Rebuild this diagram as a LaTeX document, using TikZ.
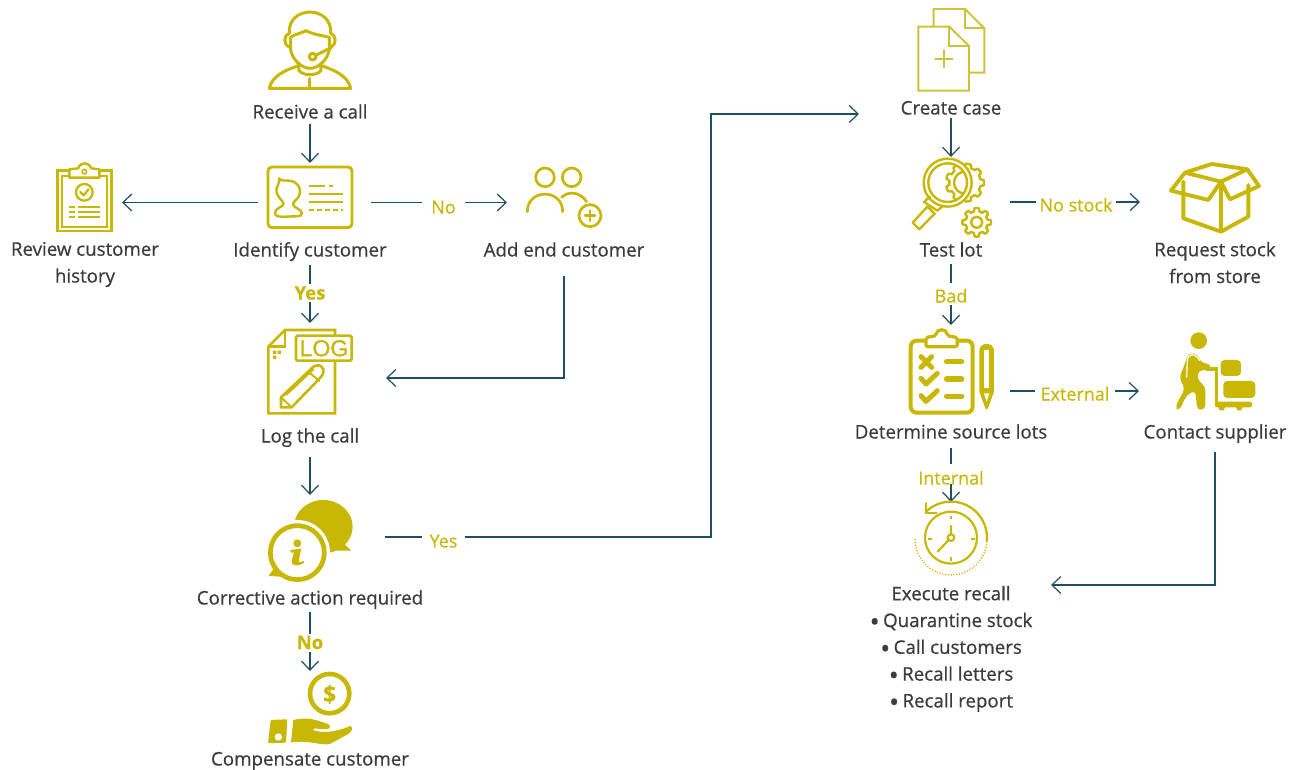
\documentclass[tikz,border=0pt]{standalone}
\usepackage{fontspec}
\setmainfont[FakeBold=0.6]{Open Sans}
\newfontfamily\goldfont[FakeBold=0.4,BoldFeatures={FakeBold=0.8}]{Open Sans}
\newfontfamily\logfont[FakeBold=1.2]{Liberation Sans}
\usetikzlibrary{arrows.meta,calc}
\definecolor{gold}{HTML}{C9B705}
\definecolor{golda}{HTML}{D1C13A}
\definecolor{teal}{HTML}{1E5064}
\definecolor{ink}{HTML}{3B3C3E}
\newcommand{\gearplot}[5]{plot[domain=0:360,samples=145,variable=\t] ({#1+(#4+(#3-#4)*min(1,max(0,.5+1.4*cos(#5*\t))))*cos(\t)},{#2+(#4+(#3-#4)*min(1,max(0,.5+1.4*cos(#5*\t))))*sin(\t)})}
\newcommand{\bigbul}{\raisebox{-4.2pt}{\fontsize{27}{27}\selectfont •}\hspace{-1.5pt}}
\tikzset{
  iconbox/.style={inner sep=0pt,outer sep=0pt,draw=none,rectangle},
  stepfont/.style={inner sep=0pt,outer sep=0pt,text=ink,font=\fontsize{18.7}{26.8}\selectfont,align=center},
  steplabel/.style={stepfont,text height=15pt,text depth=2pt},
  stepblock/.style={stepfont,anchor=north},
  cond/.style={inner sep=0pt,outer sep=0pt,fill=white,text=gold,font=\goldfont\fontsize{18}{20}\selectfont,text height=15pt,text depth=2pt},
  condb/.style={cond,font=\goldfont\bfseries\fontsize{18.5}{20}\selectfont},
  link/.style={draw=teal,line width=1.2pt,-{Straight Barb[length=9pt,width=17pt,line width=1.2pt]}},
  zoomed/.style={x=0.3333pt,y=-0.3333pt},
  ic/.style={draw=gold,line width=2.2pt,line join=round,line cap=round},
  icf/.style={fill=gold,draw=none},
}
\begin{document}
\begin{tikzpicture}[x=1pt,y=-1pt]
\useasboundingbox (0,0) rectangle (1297,770);
\fill[white] (0,0) rectangle (1297,770);

% invisible anchors of the icons
\node[iconbox,minimum width=90pt,minimum height=80pt] (receive) at (310,50) {};
\node[iconbox,minimum width=113pt,minimum height=79pt] (identify) at (314.5,202.5) {};
\node[iconbox,minimum width=74pt,minimum height=85pt] (review) at (85,202.5) {};
\node[iconbox,minimum width=114pt,minimum height=75pt] (addcust) at (564,202.5) {};
\node[iconbox,minimum width=152pt,minimum height=110pt] (logcall) at (310,378) {};
\node[iconbox,minimum width=150pt,minimum height=84pt] (corrective) at (310,537) {};
\node[iconbox,minimum width=100pt,minimum height=74pt] (compensate) at (310,708) {};
\node[iconbox,minimum width=184pt,minimum height=80pt] (createcase) at (951,114) {};
\node[iconbox,minimum width=118pt,minimum height=90pt] (testlot) at (951,202) {};
\node[iconbox,minimum width=150pt,minimum height=70pt] (request) at (1215,202) {};
\node[iconbox,minimum width=118pt,minimum height=132pt] (determine) at (951,391) {};
\node[iconbox,minimum width=152pt,minimum height=80pt] (contact) at (1215,391) {};
\node[iconbox,minimum width=200pt,minimum height=166pt] (execute) at (951,585) {};
\coordinate (turn) at (711,114);

% labels
\node[steplabel,minimum height=24pt] (lreceive) at (310,112) {Receive a call};
\node[steplabel,minimum height=30pt] (lidentify) at (310,250) {Identify customer};
\node[stepblock] (lreview) at (85,242) {Review customer\\history};
\node[steplabel,minimum height=52pt] (laddcust) at (564,250) {Add end customer};
\node[steplabel,minimum height=42pt] (llogcall) at (310,436) {Log the call};
\node[steplabel,minimum height=28pt] (lcorrective) at (310,598) {Corrective action required};
\node[steplabel] (lcompensate) at (310,759) {Compensate customer};
\node[steplabel,minimum height=20pt] (lcreatecase) at (951,108) {Create case};
\node[steplabel,minimum height=28pt] (ltestlot) at (951,250) {Test lot};
\node[stepblock] (lrequest) at (1215,242) {Request stock\\from store};
\node[steplabel,minimum height=32pt] (ldetermine) at (951,432) {Determine source lots};
\node[steplabel,minimum height=40pt] (lcontact) at (1215,432) {Contact supplier};
\node[stepblock] (lexecute) at (951,586) {Execute recall\\\bigbul{} Quarantine stock\\\bigbul{} Call customers\\\bigbul{} Recall letters\\\bigbul{} Recall report};

% connectors
\draw[link] (lreceive.south) -- (identify.north -| lreceive.south);
\draw[link] (identify.west) -- (review.east);
\draw[link] (identify.east) -- (addcust.west);
\draw[link] (lidentify.south) -- (logcall.north);
\draw[link] (laddcust.south) |- (logcall.east);
\draw[link] (llogcall.south) -- (corrective.north);
\draw[link] (corrective.east) -| (turn) -- (createcase.west);
\draw[link] (lcorrective.south) -- (compensate.north);
\draw[link] (lcreatecase.south) -- (testlot.north);
\draw[link] (testlot.east) -- (request.west);
\draw[link] (ltestlot.south) -- (determine.north);
\draw[link] (determine.east) -- (contact.west);
\draw[link] (ldetermine.south) -- (execute.north);
\draw[link] (lcontact.south) |- (execute.east);

% connector labels
\node[cond,minimum width=43pt] (c1) at (443.5,207) {No};
\node[condb,minimum width=40pt,minimum height=18pt] (c2) at (310,293) {Yes};
\node[cond,minimum width=43pt] (c3) at (443.5,541) {Yes};
\node[condb,minimum width=40pt,minimum height=18pt] (c4) at (310,642.5) {No};
\node[cond,minimum width=80pt] (c5) at (1076,205) {No stock};
\node[cond,minimum width=40pt,minimum height=22pt] (c6) at (951,294) {\raisebox{-2pt}{Bad}};
\node[cond,minimum width=80pt] (c7) at (1075,394) {External};
\node[cond,minimum width=60pt,minimum height=20pt] (c8) at (951,474) {\raisebox{-4pt}{Internal}};

% ---- operator
\begin{scope}[zoomed,ic/.append style={line width=3pt}]
\draw[ic,fill=none] (808,265) .. controls (815,228) and (860,208) .. (897,197) (808,265) -- (1052,265) .. controls (1045,228) and (1000,208) .. (963,197);
\draw[ic] (930,235) -- (930,265);
\draw[ic] (897,190) -- (897,212) .. controls (910,228) and (950,228) .. (963,212) -- (963,190);
\draw[ic] (872,112) -- (872,150) .. controls (878,180) and (905,205) .. (930,205) .. controls (955,205) and (982,180) .. (988,150) -- (988,112);
\draw[ic] (872,112) .. controls (885,102) and (905,100) .. (918,92) .. controls (935,102) and (965,106) .. (988,112);
\draw[ic] (868,100) .. controls (862,15) and (998,15) .. (992,100);
\draw[ic] (868,100) .. controls (850,105) and (850,135) .. (868,142);
\draw[ic] (992,100) .. controls (1010,105) and (1010,135) .. (992,142);
\draw[ic] (995,142) -- (950,165);
\draw[ic] (938,170) circle (10);
\end{scope}

% ---- review clipboard
\begin{scope}[zoomed]
\draw[ic,line width=2.4pt,line join=miter] (173,512) rectangle (335,693);
\draw[ic,line width=1.9pt,line join=miter] (187,527) rectangle (322,680);
\draw[ic,fill=white,line width=2.4pt] (208,533) -- (208,508) -- (235,505) .. controls (240,485) and (268,485) .. (273,505) -- (298,508) -- (298,533) -- cycle;
\draw[ic,line width=1.6pt] (253,515) circle (7);
\draw[ic,line width=2.3pt] (253,577) circle (25);
\draw[ic,line width=2.3pt] (241,576) -- (251,586) -- (266,568);
\foreach \yy in {622,636,650}{
  \draw[ic,line width=1.9pt,line cap=butt] (207,\yy) -- (226,\yy) (235,\yy) -- (301,\yy);
}
\end{scope}

% ---- id card
\begin{scope}[zoomed]
\draw[ic,line width=2.9pt] (804,501) [rounded corners=4pt] rectangle (1056,683);
\draw[ic,line width=2.4pt] (838,535) .. controls (842,545) and (855,540) .. (868,542) .. controls (895,545) and (908,570) .. (895,592) .. controls (888,602) and (878,605) .. (880,615) .. controls (885,625) and (905,628) .. (906,640) .. controls (905,652) and (890,648) .. (860,650) .. controls (835,651) and (825,650) .. (825,638) .. controls (825,625) and (848,622) .. (851,612) .. controls (850,600) and (825,590) .. (830,565) .. controls (832,553) and (840,550) .. (838,535) -- cycle;
\draw[ic,line width=2.2pt,line cap=butt] (928,557) -- (975,557) (986,557) -- (998,557) (928,582) -- (1028,582) (928,607) -- (1028,607);
\draw[ic,line width=2.2pt,line cap=butt,dash pattern=on 5pt off 3pt] (928,631) -- (1028,631);
\end{scope}

% ---- add customer
\begin{scope}[shift={(480,150)},zoomed]
\draw[ic,line width=2.7pt] (195,82) circle (28) (275,82) circle (28);
\draw[ic,line width=2.7pt] (142,185) .. controls (142,115) and (248,115) .. (248,185);
\draw[ic,line width=2.7pt] (245,142) .. controls (265,122) and (300,125) .. (320,155);
\draw[ic,line width=2.7pt] (330,197) circle (33);
\draw[ic,line width=2.7pt] (330,182) -- (330,212) (315,197) -- (345,197);
\end{scope}

% ---- log
\begin{scope}[shift={(180,280)},zoomed,ic/.append style={line width=2.6pt}]
\draw[ic,line join=miter,line cap=butt] (465,165) -- (465,150) -- (315,150) -- (265,200) -- (265,400) -- (465,400) -- (465,243);
\draw[ic,line join=miter] (315,150) -- (315,200) -- (265,200);
\fill[gold] (279,212) rectangle (289,222) (293,212) rectangle (303,222) (279,227) rectangle (289,237);
\draw[ic,rounded corners=2pt,fill=white] (348,167) rectangle (515,242);
\node[inner sep=0pt,text=gold,font=\logfont\fontsize{23}{23}\selectfont] (logword) at (432,205) {LOG};
\draw[ic,line join=round] (303,382) -- (303,352) -- (395,265) .. controls (410,250) and (425,255) .. (430,268) .. controls (432,275) and (430,282) .. (424,290) -- (335,382) -- cycle;
\draw[ic,line width=2pt] (303,352) -- (335,382) (385,275) -- (418,303) (318,345) -- (400,268);
\end{scope}

% ---- corrective
\begin{scope}[shift={(180,280)},zoomed]
\fill[gold] (430,740) ellipse [x radius=88,y radius=80];
\fill[gold] (480,780) -- (514,812) -- (450,812) -- cycle;
\fill[white] (352,818) circle (98);
\fill[gold] (285,860) -- (266,888) -- (335,892) -- cycle;
\draw[draw=gold,fill=white,line width=4.7pt] (352,818) circle (81);
\fill[gold] (352,790) circle (12);
\fill[gold] (332,810) -- (364,806) -- (356,842) .. controls (355,848) and (362,848) .. (372,842) -- (372,849) .. controls (355,860) and (332,860) .. (335,842) -- (342,818) -- (332,818) -- cycle;
\end{scope}

% ---- compensate
\begin{scope}[shift={(180,280)},zoomed]
\draw[draw=gold,line width=4.6pt] (449,1241) circle (59);
\node[inner sep=0pt,text=gold,font=\goldfont\bfseries\fontsize{23}{23}\selectfont] (dollar) at (449,1243) {\$};
\fill[gold,rounded corners=1pt] (272,1320) -- (322,1318) -- (318,1388) -- (264,1390) -- cycle;
\fill[white] (295,1371) circle (11);
\fill[gold] (340,1320) .. controls (375,1312) and (400,1315) .. (445,1333) .. controls (460,1345) and (445,1352) .. (405,1345) -- (398,1350) .. controls (430,1362) and (470,1355) .. (512,1338) .. controls (520,1345) and (515,1355) .. (505,1362) -- (450,1392) .. controls (420,1398) and (380,1378) .. (333,1388) -- cycle;
\end{scope}

% ---- create case
\begin{scope}[shift={(840,0)},zoomed]
\draw[ic,draw=golda,line width=1.9pt,line join=miter] (281,78) -- (281,27) -- (375,27) -- (433,85) -- (433,218) -- (388,218);
\draw[ic,draw=golda,line width=1.9pt,line join=miter] (375,27) -- (375,85) -- (433,85);
\draw[ic,draw=golda,line width=1.9pt,line join=miter] (235,80) -- (328,80) -- (387,138) -- (387,272) -- (235,272) -- cycle;
\draw[ic,draw=golda,line width=1.9pt,line join=miter] (328,80) -- (328,138) -- (387,138);
\draw[ic,draw=golda,line width=1.9pt] (285,177) -- (337,177) (311,150) -- (311,202);
\end{scope}

% ---- test lot
\begin{scope}[shift={(840,0)},zoomed,ic/.append style={line width=2.4pt}]
\draw[ic] \gearplot{375}{548}{57}{47}{9} -- cycle;
\begin{scope}
\clip (323,548) circle (58);
\draw[ic] (375,548) circle (33);
\end{scope}
\draw[white,line width=4.6pt] (323,548) circle (65);
\fill[white] (200,548) rectangle (262,700);
\draw[ic] (323,548) circle (72) (323,548) circle (58);
\draw[ic] (252,606) -- (270,590) (292,632) -- (310,617) (252,606) -- (292,632);
\draw[ic] (262,620) -- (284,641) -- (238,688) -- (218,668) -- cycle;
\draw[ic] \gearplot{410}{667}{43}{33}{8} -- cycle;
\draw[ic] (410,667) circle (17);
\end{scope}

% ---- box
\begin{scope}[shift={(840,0)},zoomed,ic/.append style={line width=3.9pt}]
\draw[ic] (1030,545) -- (1030,655) -- (1143,695) -- (1225,650) -- (1225,555) (1143,545) -- (1143,695);
\draw[ic] (1035,518) -- (1115,492) -- (1222,508) -- (1143,545) -- cycle;
\draw[ic] (1035,518) -- (993,572) -- (1105,600) -- (1143,545) -- (1170,598) -- (1257,558) -- (1222,508);
\end{scope}

% ---- determine
\begin{scope}[shift={(840,320)},zoomed]
\draw[ic,line width=4pt] (212,62) [rounded corners=6pt] rectangle (398,278);
\draw[ic,line width=3.2pt,fill=white,rounded corners=2pt] (258,80) -- (258,52) -- (288,48) .. controls (290,25) and (320,25) .. (322,48) -- (352,52) -- (352,80) -- cycle;
\draw[ic,line width=5pt,line cap=round] (243,110) -- (275,142) (275,110) -- (243,142);
\draw[ic,line width=5pt] (243,175) -- (258,192) -- (292,160) (243,227) -- (258,244) -- (292,212);
\draw[ic,line width=5.5pt] (320,125) -- (365,125) (320,177) -- (365,177) (320,229) -- (365,229);
\fill[gold] (418,92) .. controls (418,65) and (462,65) .. (462,92) -- (462,215) -- (445,262) .. controls (442,270) and (438,270) .. (435,262) -- (418,215) -- cycle;
\fill[white] (432,90) rectangle (448,205);
\fill[white] (432,220) -- (448,220) -- (440,245) -- cycle;
\end{scope}

% ---- supplier
\begin{scope}[shift={(840,320)},zoomed]
\fill[gold] (1076,62) circle (25);
\fill[gold,rounded corners=4pt] (1045,100) -- (1072,102) -- (1085,130) -- (1110,130) -- (1112,148) -- (1075,152) -- (1072,178) -- (1096,200) -- (1096,268) -- (1072,270) -- (1066,212) -- (1040,225) -- (1018,272) -- (1005,262) -- (1035,205) -- (1018,175) -- (1035,130) -- cycle;
\draw[white,line width=1.2pt] (1040,172) -- (1042,120) .. controls (1045,100) and (1065,98) .. (1080,122);
\draw[draw=gold,line width=3.4pt] (1098,147) -- (1130,147) -- (1130,258);
\fill[gold,rounded corners=2pt] (1125,245) rectangle (1236,262);
\fill[gold] (1145,262) circle (10) (1198,262) circle (10);
\fill[gold,rounded corners=4pt] (1142,120) rectangle (1203,168);
\fill[gold,rounded corners=4pt] (1150,183) rectangle (1246,234);
\end{scope}

% ---- recall clock
\begin{scope}[shift={(840,320)},zoomed]
\draw[ic,line width=2.2pt] (333,653) circle (78);
\draw[ic,line width=2.2pt] (333,618) -- (333,643) (326,660) -- (293,695);
\draw[ic,line width=2.2pt] (333,653) circle (10);
\draw[ic,line width=1.9pt,line cap=butt] (333,587) -- (333,598) (333,710) -- (333,722) (264,656) -- (276,656) (392,656) -- (404,656);
\draw[ic,line width=2.3pt] plot[domain=225:365,samples=40,variable=\t] ({333+108*cos(\t)},{653+108*sin(\t)});
\draw[ic,line width=2.3pt] (258,550) -- (258,578) -- (290,578);
\draw[ic,line width=1.7pt,line cap=round,dash pattern=on 0pt off 2.8pt] plot[domain=5:180,samples=40,variable=\t] ({333+108*cos(\t)},{657+108*sin(\t)});
\end{scope}
\end{tikzpicture}
\end{document}
